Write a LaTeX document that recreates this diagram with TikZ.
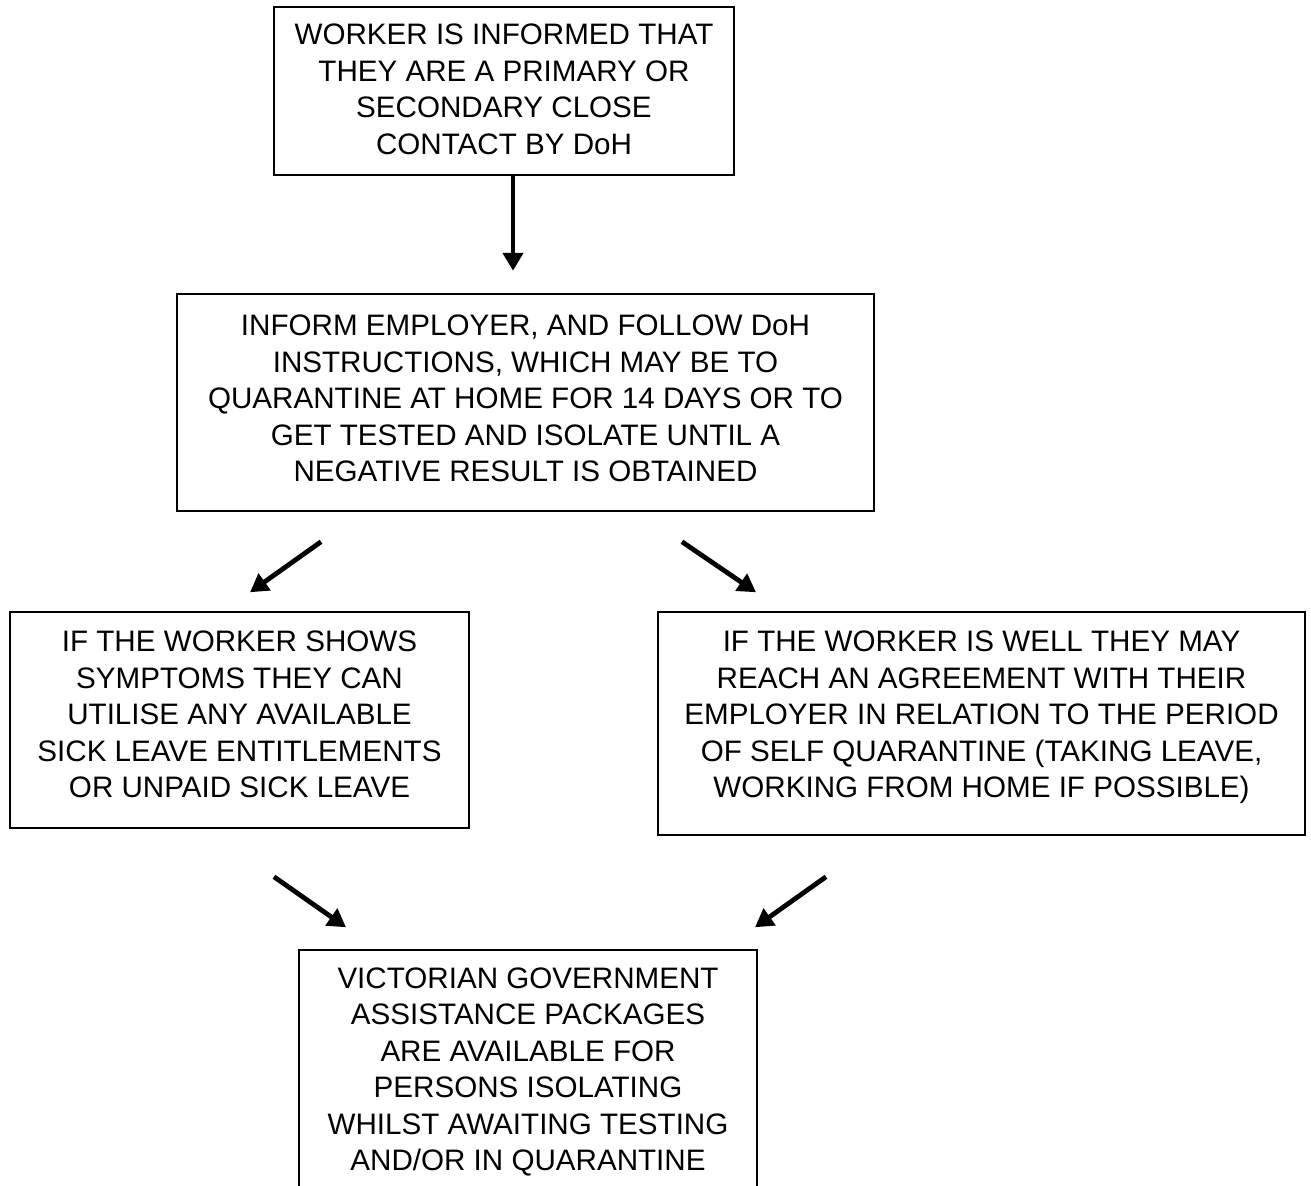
\documentclass[tikz,border=0pt]{standalone}
\usepackage{fontspec}
\setmainfont{Liberation Sans}
\usetikzlibrary{arrows.meta,calc}
\tikzset{%
  >={Triangle[width=10pt,length=9pt]},
  % Specifications for style of nodes:
     base/.style = {rectangle, draw=black, line width=0.75pt,
                           align=center, inner sep=0pt, text depth=5pt,
                           font=\fontsize{14.8pt}{18.25pt}\selectfont},
    notice/.style = {base, minimum width=230pt, minimum height=84pt, text depth=2pt},
    instruction/.style = {base, minimum width=348.5pt, minimum height=108.5pt, text depth=4pt},
    sickOption/.style = {base, minimum width=229.5pt, minimum height=108pt, text depth=5.5pt},
    wellOption/.style = {base, minimum width=323.5pt, minimum height=111.5pt, text depth=9pt},
    assistance/.style = {base, minimum width=229pt, minimum height=125pt, text depth=6pt},
    flow/.style = {->, line width=2.4pt},
}

\begin{document}
\begin{tikzpicture}[node distance=160pt]
  \useasboundingbox (0,0) rectangle (655.5pt,-592.5pt);
  % Specification of nodes (position, etc.)
  \node (informed)   [notice] at (252pt,-45.5pt)
                     {WORKER IS INFORMED THAT\\
                      THEY ARE A PRIMARY OR\\
                      SECONDARY CLOSE\\
                      CONTACT BY DoH};

  \node (followDoH)  [instruction, below of=informed, xshift=10.75pt, yshift=4.25pt]
                     {INFORM EMPLOYER, AND FOLLOW DoH\\
                      INSTRUCTIONS, WHICH MAY BE TO\\
                      QUARANTINE AT HOME FOR 14 DAYS OR TO\\
                      GET TESTED AND ISOLATE UNTIL A\\
                      NEGATIVE RESULT IS OBTAINED};

  \node (sickLeave)  [sickOption, below of=followDoH, xshift=-143pt, yshift=1.25pt]
                     {IF THE WORKER SHOWS\\
                      SYMPTOMS THEY CAN\\
                      UTILISE ANY AVAILABLE\\
                      SICK LEAVE ENTITLEMENTS\\
                      OR UNPAID SICK LEAVE};

  \node (agreement)  [wellOption, below of=followDoH, xshift=228pt, yshift=-0.5pt]
                     {IF THE WORKER IS WELL THEY MAY\\
                      REACH AN AGREEMENT WITH THEIR\\
                      EMPLOYER IN RELATION TO THE PERIOD\\
                      OF SELF QUARANTINE (TAKING LEAVE,\\
                      WORKING FROM HOME IF POSSIBLE)};

  \node (packages)   [assistance, below of=followDoH, xshift=1.25pt, yshift=-176.25pt]
                     {VICTORIAN GOVERNMENT\\
                      ASSISTANCE PACKAGES\\
                      ARE AVAILABLE FOR\\
                      PERSONS ISOLATING\\
                      WHILST AWAITING TESTING\\
                      AND/OR IN QUARANTINE};

  % free ends of the arrows
  \coordinate (followIn)   at ($(informed.south)+(4.5pt,-47.5pt)$);
  \coordinate (sickOut)    at ($(followDoH.south)+(-102.25pt,-15pt)$);
  \coordinate (sickIn)     at ($(sickLeave.north)+(5.25pt,9.5pt)$);
  \coordinate (wellOut)    at ($(followDoH.south)+(78.25pt,-15pt)$);
  \coordinate (wellIn)     at ($(agreement.north)+(-112.75pt,9.5pt)$);
  \coordinate (sickDown)   at ($(sickLeave.south)+(17.25pt,-24pt)$);
  \coordinate (packLeft)   at ($(packages.north)+(-91pt,11pt)$);
  \coordinate (wellDown)   at ($(agreement.south)+(-77.75pt,-20.5pt)$);
  \coordinate (packRight)  at ($(packages.north)+(113.5pt,11pt)$);

  % Specification of lines between nodes specified above
  \draw[flow] ([xshift=4.5pt]informed.south) -- (followIn);

  \draw[flow] (sickOut) -- (sickIn);
  \draw[flow] (wellOut) -- (wellIn);

  \draw[flow] (sickDown) -- (packLeft);
  \draw[flow] (wellDown) -- (packRight);
\end{tikzpicture}
\end{document}
